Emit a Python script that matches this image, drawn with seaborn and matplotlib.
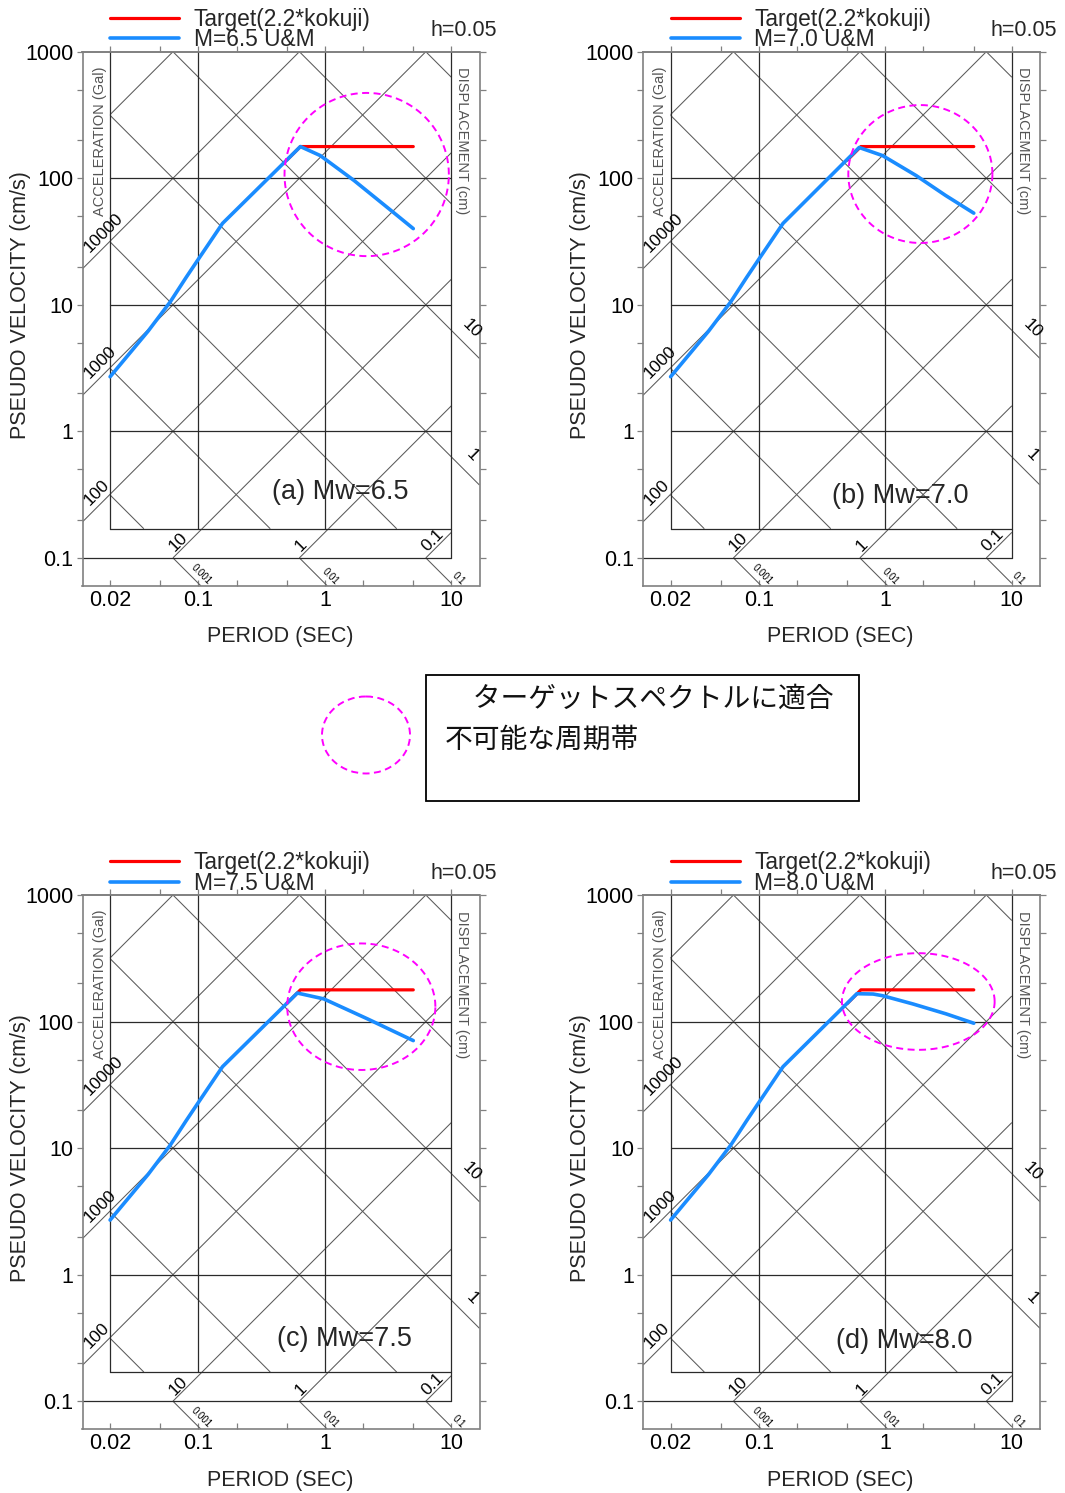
import numpy as np
import matplotlib
matplotlib.use('Agg')
import matplotlib.pyplot as plt
import seaborn as sns
from matplotlib.patches import Rectangle, Ellipse
from matplotlib.ticker import FixedLocator, FixedFormatter, NullLocator

# ---------------- data ----------------
panel_tags = ['(a) Mw=6.5', '(b) Mw=7.0', '(c) Mw=7.5', '(d) Mw=8.0']
model_labels = ['M=6.5 U&M', 'M=7.0 U&M', 'M=7.5 U&M', 'M=8.0 U&M']
target_label = 'Target(2.2*kokuji)'
damping_text = 'h=0.05'

# target spectrum (pseudo velocity, cm/s)
target_T = [0.50, 0.64, 5.0]
target_V = [139, 178, 178]

# U&M spectra: common short-period part
short_T = [0.02, 0.04, 0.06, 0.08, 0.10, 0.155]
short_V = [2.7, 6.2, 10.6, 16.5, 23.0, 44.0]
# long-period parts
m65_T = [0.64, 0.92, 1.7, 3.46, 5.0]
m65_V = [178, 151, 96, 54, 40]
m70_T = [0.62, 0.95, 1.75, 3.0, 5.0]
m70_V = [175, 151, 105, 73, 53]
m75_T = [0.605, 0.98, 2.17, 5.0]
m75_V = [168, 151, 105, 70.7]
m80_T = [0.595, 0.80, 0.95, 1.64, 3.02, 5.0]
m80_V = [166, 165, 160, 138, 115, 97]
long_T = [m65_T, m70_T, m75_T, m80_T]
long_V = [m65_V, m70_V, m75_V, m80_V]

# "not fittable" period band marks (centre T, centre V, radii in decades)
band_T = [2.14, 1.89, 1.94, 1.82]
band_V = [107, 108, 131, 144]
band_rx = [0.65, 0.57, 0.586, 0.604]
band_ry = [0.645, 0.545, 0.50, 0.382]

# tripartite grid values
accel_vals = [0.1, 1, 10, 100, 1000, 10000, 100000]       # Gal
disp_vals = [0.001, 0.01, 0.1, 1, 10, 100, 1000]          # cm
accel_left_labels = [10000, 1000, 100]
accel_bottom_labels = [10, 1, 0.1]
disp_bottom_labels = [0.001, 0.01, 0.1]
disp_right_labels = [10, 1]

period_ticks = [0.02, 0.05, 0.1, 0.2, 0.5, 1, 2, 5, 10]
period_ticklabels = ['0.02', '', '0.1', '', '', '1', '', '', '10']
vel_ticks = [0.1, 0.2, 0.5, 1, 2, 5, 10, 20, 50, 100, 200, 500, 1000]
vel_ticklabels = ['0.1', '', '', '1', '', '', '10', '', '', '100', '', '', '1000']

note_line1 = '\u3000ターゲットスペクトルに適合'
note_line2 = '不可能な周期帯'

# ---------------- style ----------------
sns.set_theme(style='white')
plt.rcParams['font.family'] = ['Liberation Sans', 'Noto Sans CJK JP', 'DejaVu Sans']
plt.rcParams['axes.unicode_minus'] = False

W, H = 1065, 1493
fig = plt.figure(figsize=(W / 100, H / 100), dpi=100)
fig.patch.set_facecolor('white')

XLIM = (0.0121, 16.7)
YLIM = (0.0603, 1000)
T_IN0, T_IN1 = 0.02, 10.0
V_IN0 = 0.17
TWO_PI = 2 * np.pi
ax_px = [(82.5, 51.7), (643.0, 51.7), (82.5, 895.0), (643.0, 895.0)]
AX_W, AX_H = 397, 534
tag_pos = [(0.649, 0.175), (0.647, 0.168), (0.661, 0.168), (0.657, 0.165)]

SPINE_C = '#808080'
GRID_C = '#2a2a2a'
DIAG_C = '#5a5a5a'


def seg(kind, val, t0, t1, v0, v1):
    lt0, lt1, lv0, lv1 = np.log10([t0, t1, v0, v1])
    if kind == 'A':
        c = np.log10(val / TWO_PI)
        a, b = max(lt0, lv0 - c), min(lt1, lv1 - c)
        f = lambda lt: lt + c
    else:
        c = np.log10(TWO_PI * val)
        a, b = max(lt0, c - lv1), min(lt1, c - lv0)
        f = lambda lt: c - lt
    if b <= a:
        return None
    lts = np.array([a, b])
    return 10 ** lts, 10 ** f(lts)


def draw_diag(ax, kind, vals, t0, t1, v0, v1):
    for v in vals:
        s = seg(kind, v, t0, t1, v0, v1)
        if s is not None:
            ax.plot(s[0], s[1], color=DIAG_C, lw=0.75, zorder=1, solid_capstyle='butt')


def ann(ax, s, xy, off, rot, ha, va, fs):
    ax.annotate(s, xy=xy, xytext=off, textcoords='offset points', rotation=rot,
                rotation_mode='anchor', ha=ha, va=va, fontsize=fs, color='black',
                annotation_clip=False, zorder=4)


dec_x = AX_W / np.log10(XLIM[1] / XLIM[0])   # px per decade
dec_y = AX_H / np.log10(YLIM[1] / YLIM[0])
PT = 72 / 100.0

for i, (left, top) in enumerate(ax_px):
    ax = fig.add_axes([left / W, 1 - (top + AX_H) / H, AX_W / W, AX_H / H])
    ax.set_xscale('log')
    ax.set_yscale('log')
    ax.set_xlim(XLIM)
    ax.set_ylim(YLIM)
    ax.set_facecolor('white')

    # ---- orthogonal grid / frames ----
    for v in [1, 10, 100, V_IN0]:
        ax.plot([T_IN0, T_IN1], [v, v], color=GRID_C, lw=0.9, zorder=2)
    ax.plot([XLIM[0], T_IN1], [0.1, 0.1], color=GRID_C, lw=0.9, zorder=2)
    for t in [T_IN0, 0.1, 1]:
        ax.plot([t, t], [V_IN0, YLIM[1]], color=GRID_C, lw=0.9, zorder=2)
    ax.plot([T_IN1, T_IN1], [0.1, YLIM[1]], color=GRID_C, lw=0.9, zorder=2)

    # ---- diagonal (acceleration / displacement) lines ----
    draw_diag(ax, 'A', accel_vals, T_IN0, T_IN1, V_IN0, YLIM[1])
    draw_diag(ax, 'D', disp_vals, T_IN0, T_IN1, V_IN0, YLIM[1])
    draw_diag(ax, 'A', accel_left_labels, XLIM[0], T_IN0, 0.1, YLIM[1])
    draw_diag(ax, 'A', accel_bottom_labels, XLIM[0], T_IN1, 0.1, V_IN0)
    draw_diag(ax, 'D', disp_bottom_labels, XLIM[0], T_IN1, YLIM[0], 0.1)
    draw_diag(ax, 'D', disp_right_labels, T_IN1, XLIM[1], YLIM[0], YLIM[1])

    # ---- diagonal labels ----
    k = 0.7071
    for a in accel_left_labels:
        ts = XLIM[0] * 10 ** (16 * k / dec_x)
        vs = a * ts / TWO_PI
        ann(ax, f'{a:g}', (ts, vs), (-7.8 * PT, 7.8 * PT), 45, 'left', 'center', 12.5)
    for a in accel_bottom_labels:
        ti = TWO_PI * 0.1 / a
        ts = ti * 10 ** (5 * k / dec_x)
        vs = 0.1 * 10 ** (5 * k / dec_y)
        ann(ax, f'{a:g}', (ts, vs), (-5.2 * PT, 5.2 * PT), 45, 'left', 'center', 12.5)
    for d in disp_bottom_labels:
        ti = TWO_PI * d / 0.1
        te = ti * 10 ** (44 * k / dec_x)
        ve = 0.1 * 10 ** (-44 * k / dec_y)
        ann(ax, f'{d:g}', (te, ve), (6.1 * PT, 6.1 * PT), -45, 'right', 'center', 7)
    for d in disp_right_labels:
        vi = TWO_PI * d / T_IN1
        tc = T_IN1 * 10 ** (13 * k / dec_x)
        vc = vi * 10 ** (-13 * k / dec_y)
        ann(ax, f'{d:g}', (tc, vc), (11.3 * PT, 11.3 * PT), -45, 'center', 'center', 12.5)

    ax.text(0.044, 0.833, 'ACCELERATION (Gal)', transform=ax.transAxes, rotation=90,
            ha='center', va='center', fontsize=10.5, color='#555555', zorder=4)
    ax.text(0.956, 0.833, 'DISPLACEMENT (cm)', transform=ax.transAxes, rotation=-90,
            ha='center', va='center', fontsize=10.5, color='#555555', zorder=4)

    # ---- data ----
    sns.lineplot(x=target_T, y=target_V, ax=ax, color='#ff0000', lw=2.3,
                 label=target_label, zorder=5, sort=False)
    mT = short_T + long_T[i]
    mV = short_V + long_V[i]
    sns.lineplot(x=mT, y=mV, ax=ax, color='#1a8cff', lw=2.6,
                 label=model_labels[i], zorder=6, sort=False)

    # ---- band mark ----
    th = np.linspace(0, 2 * np.pi, 300)
    ex = 10 ** (np.log10(band_T[i]) + band_rx[i] * np.cos(th))
    ey = 10 ** (np.log10(band_V[i]) + band_ry[i] * np.sin(th))
    ax.plot(ex, ey, color='#ff00ff', lw=1.4, ls=(0, (3.6, 2.3)), zorder=7)

    # ---- ticks ----
    ax.xaxis.set_major_locator(FixedLocator(period_ticks))
    ax.xaxis.set_major_formatter(FixedFormatter(period_ticklabels))
    ax.xaxis.set_minor_locator(NullLocator())
    ax.yaxis.set_major_locator(FixedLocator(vel_ticks))
    ax.yaxis.set_major_formatter(FixedFormatter(vel_ticklabels))
    ax.yaxis.set_minor_locator(NullLocator())
    ax.tick_params(axis='x', which='major', direction='in', length=4, width=0.9,
                   color=SPINE_C, labelsize=15.5, pad=3, bottom=True, top=False,
                   labelcolor='black')
    ax.tick_params(axis='y', which='major', direction='out', length=4, width=0.9,
                   color=SPINE_C, labelsize=15.5, pad=2.5, left=True, right=True,
                   labelcolor='black')
    sec = ax.secondary_xaxis('top')
    sec.xaxis.set_major_locator(FixedLocator(period_ticks))
    sec.xaxis.set_minor_locator(NullLocator())
    sec.xaxis.set_major_formatter(FixedFormatter([''] * len(period_ticks)))
    sec.tick_params(axis='x', direction='out', length=4, width=0.9, color=SPINE_C, top=True)
    for s in sec.spines.values():
        s.set_color(SPINE_C)
        s.set_linewidth(1.2)

    for s in ax.spines.values():
        s.set_color(SPINE_C)
        s.set_linewidth(1.2)
        s.set_visible(True)

    ax.set_xlabel('PERIOD (SEC)', fontsize=15.5)
    ax.set_ylabel('PSEUDO VELOCITY (cm/s)', fontsize=15.5)
    ax.xaxis.set_label_coords(0.4975, -0.076)
    ax.yaxis.set_label_coords(-0.13, 0.5257)

    ax.text(tag_pos[i][0], tag_pos[i][1], panel_tags[i], transform=ax.transAxes,
            ha='center', va='center', fontsize=19.5, zorder=8)
    ax.text(1.044, 1.0406, damping_text, transform=ax.transAxes, ha='right',
            va='center', fontsize=15.5)

    h, l = ax.get_legend_handles_labels()
    ax.legend(h, l, loc='center left', bbox_to_anchor=(0.0693, 1.0415), frameon=False,
              borderpad=0, borderaxespad=0, handlelength=3.05, handletextpad=0.62,
              labelspacing=-0.1, fontsize=16.4)

# ---------------- centre note ----------------
ov = fig.add_axes([0, 0, 1, 1], zorder=10)
ov.set_xlim(0, W)
ov.set_ylim(H, 0)
ov.axis('off')
ov.add_patch(Rectangle((426, 675), 433, 126, fill=False, ec='black', lw=1.3))
ov.add_patch(Ellipse((366, 735), 88, 77, fill=False, ec='#ff00ff', lw=1.4,
                     ls=(0, (3.6, 2.3))))
ov.text(445, 700, note_line1, ha='left', va='center', fontsize=20, color='#111111')
ov.text(445, 741, note_line2, ha='left', va='center', fontsize=20, color='#111111')

fig.savefig('out.png', dpi=100, facecolor='white')
